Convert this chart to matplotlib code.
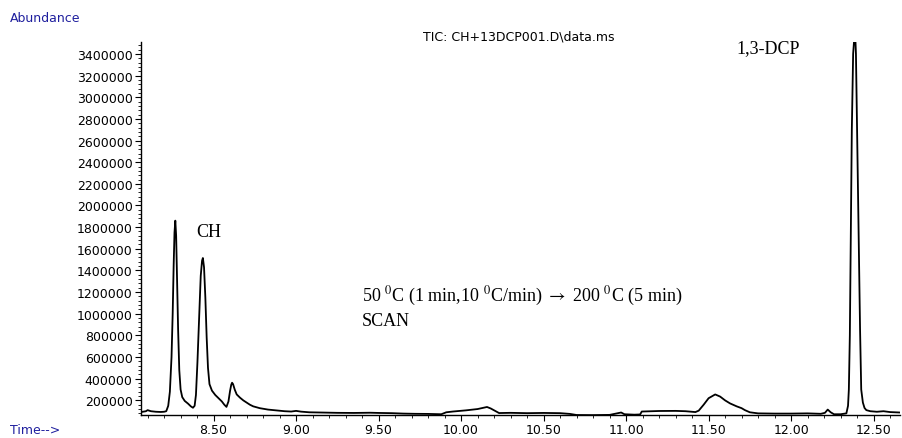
import matplotlib
matplotlib.use('Agg')
import matplotlib.pyplot as plt
from matplotlib.ticker import MultipleLocator, FormatStrFormatter

# retention time (min) and TIC abundance
time_min = [
    8.06, 8.09, 8.10, 8.12, 8.15, 8.18, 8.20, 8.213,
    8.225, 8.235, 8.245, 8.252, 8.258, 8.263, 8.268, 8.273, 8.279, 8.285,
    8.292, 8.300, 8.310, 8.325, 8.345, 8.362, 8.375,
    8.385, 8.393, 8.402, 8.412, 8.422, 8.430, 8.435, 8.442, 8.450, 8.458,
    8.466, 8.475, 8.49, 8.51, 8.53, 8.55, 8.565, 8.578,
    8.59, 8.60, 8.607, 8.612, 8.618, 8.628, 8.64, 8.66, 8.68, 8.70, 8.72,
    8.74, 8.78, 8.83, 8.88, 8.93, 8.97, 9.00, 9.03, 9.08, 9.15, 9.25, 9.35,
    9.45, 9.50, 9.58, 9.65, 9.72, 9.80, 9.88,
    9.91, 9.95, 10.03, 10.10, 10.157, 10.18, 10.23, 10.30, 10.40, 10.50,
    10.60, 10.66, 10.70, 10.80, 10.90, 10.95, 10.97, 10.99, 11.05, 11.085,
    11.095, 11.20, 11.30, 11.36, 11.42, 11.44, 11.47, 11.50, 11.54, 11.57,
    11.60, 11.63, 11.67, 11.70, 11.72, 11.75, 11.80, 11.90, 12.00, 12.10,
    12.18, 12.205, 12.222, 12.24, 12.26, 12.30, 12.335,
    12.345, 12.350, 12.356, 12.362, 12.368, 12.376, 12.383, 12.388, 12.393,
    12.400, 12.410, 12.418, 12.425, 12.435, 12.445, 12.456, 12.48, 12.52,
    12.56, 12.60, 12.66,
]
abundance = [
    92000, 100000, 110000, 100000, 95000, 93000, 95000, 100000,
    150000, 280000, 600000, 1000000, 1450000, 1750000, 1860000, 1720000,
    1300000, 850000,
    480000, 300000, 230000, 195000, 170000, 145000, 132000,
    150000, 250000, 550000, 950000, 1350000, 1490000, 1515000, 1430000,
    1150000, 780000,
    500000, 350000, 290000, 250000, 220000, 190000, 160000, 140000,
    190000, 290000, 345000, 363000, 350000, 300000, 255000, 225000, 200000,
    180000, 160000,
    145000, 128000, 115000, 108000, 100000, 97000, 103000, 96000, 90000,
    88000, 85000, 84000,
    86000, 84000, 82000, 78000, 76000, 75000, 72000,
    90000, 97000, 108000, 120000, 139000, 125000, 83000, 85000, 82000, 84000,
    82000, 75000, 65000, 64000, 66000, 82000, 88000, 72000, 68000, 70000,
    97000, 102000, 103000, 100000, 92000, 105000, 160000, 220000, 255000,
    235000,
    200000, 172000, 145000, 128000, 110000, 90000, 80000, 78000, 78000, 80000,
    76000, 85000, 115000, 90000, 72000, 72000, 80000,
    150000, 300000, 800000, 1700000, 2700000, 3400000, 3550000, 3600000,
    3400000,
    2700000, 1700000, 850000, 300000, 180000, 130000, 110000, 100000, 95000,
    100000, 92000, 88000,
]

title_text = 'TIC: CH+13DCP001.D\\data.ms'
peak_labels = ['CH', '1,3-DCP']
method_lines = [r'50 $^{0}$C (1 min,10 $^{0}$C/min) $\rightarrow$ 200 $^{0}$C (5 min)',
                'SCAN']

plt.rcParams['mathtext.fontset'] = 'stix'
blue = '#1f1f9e'
tick_size = 9

fig = plt.figure(figsize=(9.02, 4.39), dpi=100)
ax = fig.add_axes([141 / 902, 1 - 416 / 439, 759 / 902, 373 / 439])

ax.plot(time_min, abundance, color='black', lw=1.3)

ax.set_xlim(8.06, 12.66)
ax.set_ylim(65000, 3510000)
ax.spines['top'].set_visible(False)
ax.spines['right'].set_visible(False)
ax.spines['left'].set_linewidth(1.0)
ax.spines['bottom'].set_linewidth(1.0)

ax.xaxis.set_major_locator(MultipleLocator(0.5))
ax.xaxis.set_minor_locator(MultipleLocator(0.1))
ax.xaxis.set_major_formatter(FormatStrFormatter('%.2f'))
ax.yaxis.set_major_locator(MultipleLocator(200000))
ax.yaxis.set_minor_locator(MultipleLocator(40000))
ax.yaxis.set_major_formatter(FormatStrFormatter('%d'))
ax.tick_params(which='major', direction='out', length=4, width=0.8, pad=2)
ax.tick_params(which='minor', direction='out', length=2, width=0.6)
for lab in ax.get_xticklabels() + ax.get_yticklabels():
    lab.set_fontfamily('DejaVu Sans')
    lab.set_fontsize(tick_size)

# peak and method annotations
serif = 'Liberation Serif'
ax.text(8.397, 1720000, peak_labels[0], family=serif, fontsize=13)
ax.text(11.67, 3420000, peak_labels[1], family=serif, fontsize=13)
ax.text(9.397, 1120000, method_lines[0], family=serif, fontsize=13)
ax.text(9.397, 900000, method_lines[1], family=serif, fontsize=13)

fig.text(519 / 902, 1 - 37 / 439, title_text, ha='center', va='center',
         family='DejaVu Sans', fontsize=tick_size)
fig.text(10 / 902, 1 - 18 / 439, 'Abundance', ha='left', va='center',
         color=blue, family='DejaVu Sans', fontsize=tick_size)
fig.text(10 / 902, 1 - 431 / 439, 'Time-->', ha='left', va='center',
         color=blue, family='DejaVu Sans', fontsize=tick_size)

fig.savefig('out.png', dpi=100)
